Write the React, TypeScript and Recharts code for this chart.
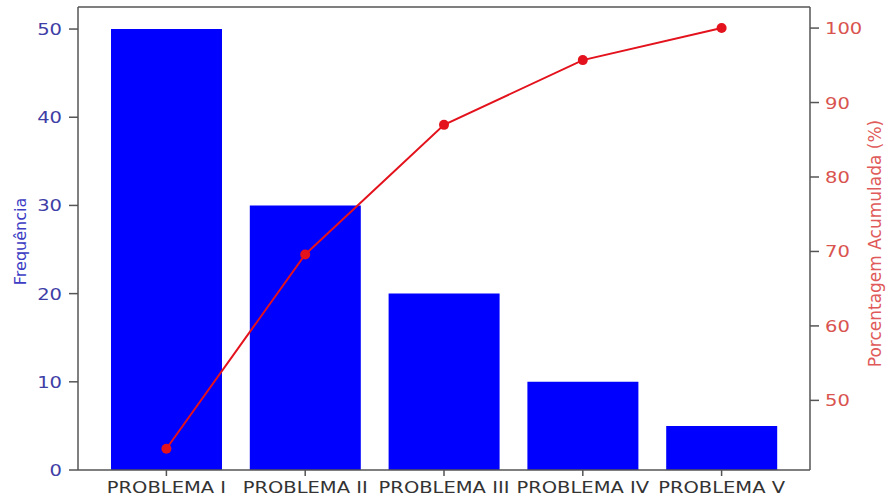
import { ComposedChart, Bar, Line, XAxis, YAxis, ReferenceLine } from 'recharts';

const CATEGORIES = ['PROBLEMA I', 'PROBLEMA II', 'PROBLEMA III', 'PROBLEMA IV', 'PROBLEMA V'];
const FREQUENCIAS = [50, 30, 20, 10, 5];
const ACUMULADO = [43.5, 69.6, 87.0, 95.7, 100.0];
const LEFT_TICKS = [0, 10, 20, 30, 40, 50];
const RIGHT_TICKS = [50, 60, 70, 80, 90, 100];

const data = CATEGORIES.map((name, i) => ({
  name,
  freq: FREQUENCIAS[i],
  cum: ACUMULADO[i],
}));

const FONT = '"DejaVu Sans", sans-serif';
const STRETCH = 1.22;
const AXIS = '#555555';

const LeftTick = ({ x, y, payload }: any) => (
  <text
    transform={`translate(${x},${y}) scale(${STRETCH},1)`}
    x={0}
    y={0}
    dy={6}
    textAnchor="end"
    fontFamily={FONT}
    fontSize={16}
    fill="#3e3ea6"
  >
    {payload.value}
  </text>
);

const RightTick = ({ x, y, payload }: any) => (
  <text
    transform={`translate(${x},${y}) scale(${STRETCH},1)`}
    x={0}
    y={0}
    dy={6}
    textAnchor="start"
    fontFamily={FONT}
    fontSize={16}
    fill="#d9534f"
  >
    {payload.value}
  </text>
);

const BottomTick = ({ x, y, payload }: any) => (
  <text
    transform={`translate(${x},${y}) scale(${STRETCH},1)`}
    x={0}
    y={0}
    dy={15}
    textAnchor="middle"
    fontFamily={FONT}
    fontSize={16}
    fill="#333333"
  >
    {payload.value}
  </text>
);

const LeftLabel = ({ viewBox }: any) => {
  const cx = viewBox.x + 20;
  const cy = viewBox.y + viewBox.height / 2 + 3;
  return (
    <text
      x={cx}
      y={cy}
      transform={`rotate(-90 ${cx} ${cy})`}
      textAnchor="middle"
      dominantBaseline="central"
      fontFamily={FONT}
      fontSize={16}
      fill="#3c3cc4"
    >
      Frequência
    </text>
  );
};

const RightLabel = ({ viewBox }: any) => {
  const cx = viewBox.x + 65;
  const cy = viewBox.y + viewBox.height / 2 + 5;
  return (
    <text
      x={cx}
      y={cy}
      transform={`rotate(-90 ${cx} ${cy})`}
      textAnchor="middle"
      dominantBaseline="central"
      fontFamily={FONT}
      fontSize={17}
      fill="#e05a5a"
    >
      Porcentagem Acumulada (%)
    </text>
  );
};

export default function App() {
  return (
    <div style={{ position: 'absolute', left: 0, top: 0, background: '#fff' }}>
      <ComposedChart
        width={890}
        height={497}
        data={data}
        margin={{ top: 7, right: 0, bottom: 0, left: 0 }}
      >
        <XAxis
          dataKey="name"
          height={27}
          padding={{ left: 19, right: 19 }}
          stroke={AXIS}
          strokeWidth={1.5}
          tickSize={6}
          tickMargin={2}
          tick={<BottomTick />}
          interval={0}
        />
        <YAxis
          yAxisId="left"
          orientation="left"
          width={78}
          type="number"
          domain={[0, 52.5]}
          ticks={LEFT_TICKS}
          allowDataOverflow
          stroke={AXIS}
          strokeWidth={1.5}
          tickSize={9}
          tickMargin={7}
          tick={<LeftTick />}
          label={<LeftLabel />}
        />
        <YAxis
          yAxisId="right"
          orientation="right"
          width={80}
          type="number"
          domain={[40.65, 102.83]}
          ticks={RIGHT_TICKS}
          allowDataOverflow
          stroke={AXIS}
          strokeWidth={1.5}
          tickSize={9}
          tickMargin={6}
          tick={<RightTick />}
          label={<RightLabel />}
        />
        <ReferenceLine yAxisId="left" y={52.5} stroke={AXIS} strokeWidth={1.5} />
        <Bar
          yAxisId="left"
          dataKey="freq"
          fill="#0000ff"
          barSize={111}
          isAnimationActive={false}
        />
        <Line
          yAxisId="right"
          dataKey="cum"
          stroke="#e3121c"
          strokeWidth={2}
          dot={{ r: 5, fill: '#e3121c', stroke: '#e3121c', strokeWidth: 0 }}
          activeDot={false}
          isAnimationActive={false}
        />
      </ComposedChart>
    </div>
  );
}
